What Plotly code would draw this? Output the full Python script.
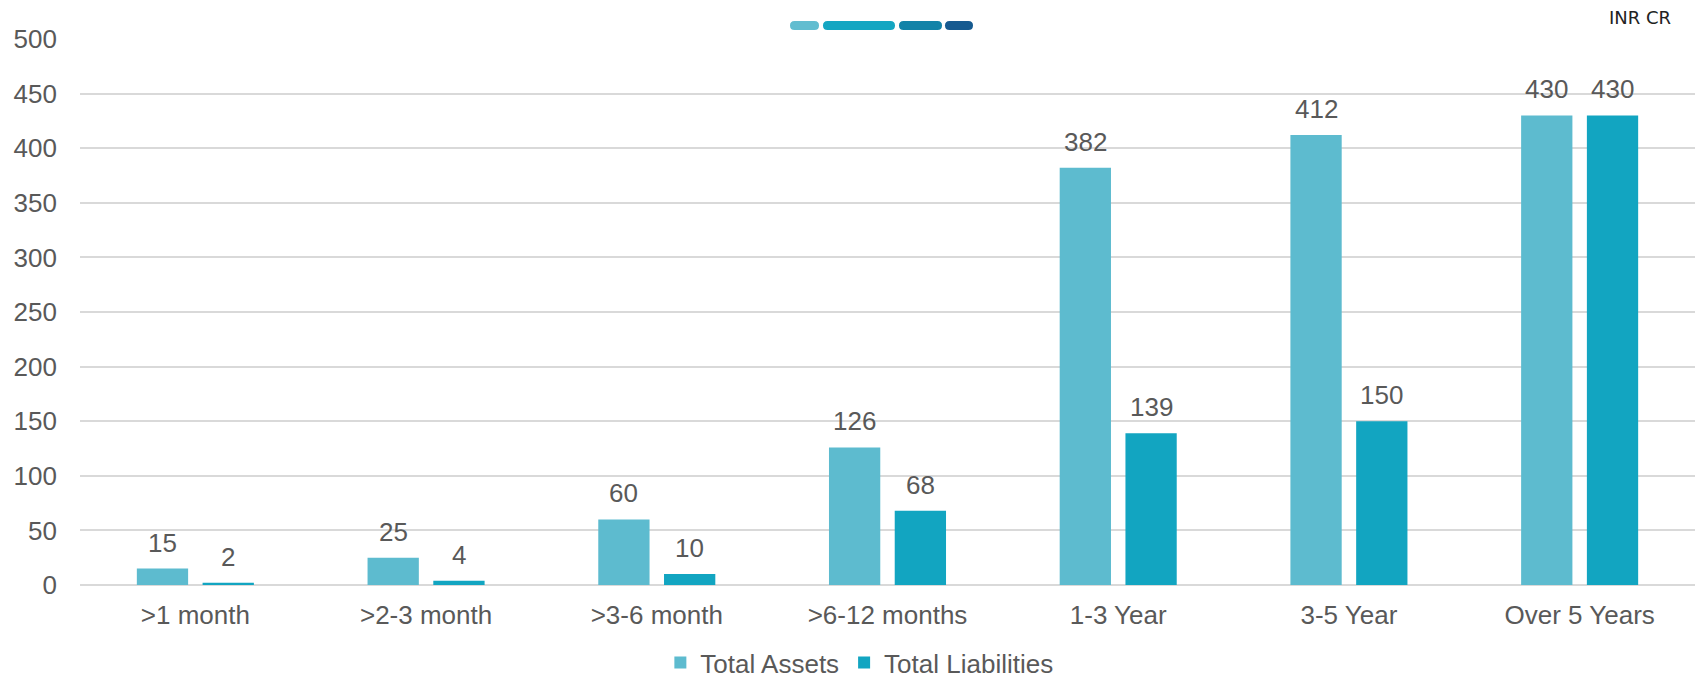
import plotly.graph_objects as go

categories = [">1 month", ">2-3 month", ">3-6 month", ">6-12 months", "1-3 Year", "3-5 Year", "Over 5 Years"]
total_assets = [15, 25, 60, 126, 382, 412, 430]
total_liabilities = [2, 4, 10, 68, 139, 150, 430]

W, H = 1695, 679
ML, MR, MT, MB = 80, 0, 39, 94
PW, PH = W - ML - MR, H - MT - MB

FONT = "Arial, Liberation Sans, sans-serif"
GREY = "#595959"
FS = 26

BARGAP, BARGROUPGAP = 0.43, 0.22
slot_px = PW / len(categories) * (1 - BARGAP) / 2

fig = go.Figure()
fig.add_trace(go.Bar(
    name="Total Assets", x=categories, y=total_assets,
    marker=dict(color="#5DBBCF", line=dict(width=0)),
))
fig.add_trace(go.Bar(
    name="Total Liabilities", x=categories, y=total_liabilities,
    marker=dict(color="#12A5C1", line=dict(width=0)),
))

annotations = []
for vals, sh in ((total_assets, -slot_px / 2), (total_liabilities, slot_px / 2)):
    for c, v in zip(categories, vals):
        annotations.append(dict(
            x=c, y=v, xref="x", yref="y", text=str(v), showarrow=False,
            xanchor="center", yanchor="bottom", xshift=sh, yshift=9,
            font=dict(size=FS, color=GREY, family=FONT)))

def px2paper(x, y):
    return (x - ML) / PW, (H - MB - y) / PH

def pill(x0, x1, yc, h, color):
    r = h / 2
    top, bot = yc - r, yc + r
    pts = [
        ("M", [(x0 + r, top)]),
        ("L", [(x1 - r, top)]),
        ("Q", [(x1, top), (x1, yc)]),
        ("Q", [(x1, bot), (x1 - r, bot)]),
        ("L", [(x0 + r, bot)]),
        ("Q", [(x0, bot), (x0, yc)]),
        ("Q", [(x0, top), (x0 + r, top)]),
    ]
    s = ""
    for cmd, ps in pts:
        coords = " ".join("%.5f,%.5f" % px2paper(a, b) for a, b in ps)
        s += f"{cmd} {coords} "
    s += "Z"
    return dict(type="path", xref="paper", yref="paper", path=s,
                fillcolor=color, line=dict(width=0), layer="above")

shapes = [
    pill(790, 819, 25.5, 9, "#62BDD0"),
    pill(823, 895, 25.5, 9, "#14A6C2"),
    pill(899, 942, 25.5, 9, "#1383A8"),
    pill(945, 973, 25.5, 9, "#165A90"),
]

annotations.append(dict(text="INR CR", xref="paper", yref="paper",
                        x=px2paper(1673, 0)[0], y=px2paper(0, 18)[1],
                        xanchor="right", yanchor="middle", showarrow=False,
                        font=dict(family="DejaVu Sans", size=18, color="#222222")))

fig.update_layout(
    width=W, height=H,
    margin=dict(l=ML, r=MR, t=MT, b=MB),
    paper_bgcolor="white", plot_bgcolor="white",
    barmode="group", bargap=BARGAP, bargroupgap=BARGROUPGAP,
    font=dict(family=FONT, size=FS, color=GREY),
    showlegend=True,
    legend=dict(orientation="h", xref="container", yref="container",
                x=0.507, xanchor="center", y=0.024, yanchor="middle",
                font=dict(size=FS, color=GREY, family=FONT),
                itemwidth=30, traceorder="normal"),
    xaxis=dict(showgrid=False, showline=False, ticks="", zeroline=False,
               ticklabelstandoff=12,
               tickfont=dict(size=FS, color=GREY, family=FONT)),
    yaxis=dict(range=[0, 500], dtick=50, showgrid=True, gridcolor="#D9D9D9",
               gridwidth=2, zeroline=True, zerolinecolor="#D9D9D9", zerolinewidth=2,
               showline=False, ticks="", ticklabelstandoff=22,
               tickfont=dict(size=FS, color=GREY, family=FONT)),
    shapes=shapes,
    annotations=annotations,
)

fig.write_html("out.html")
